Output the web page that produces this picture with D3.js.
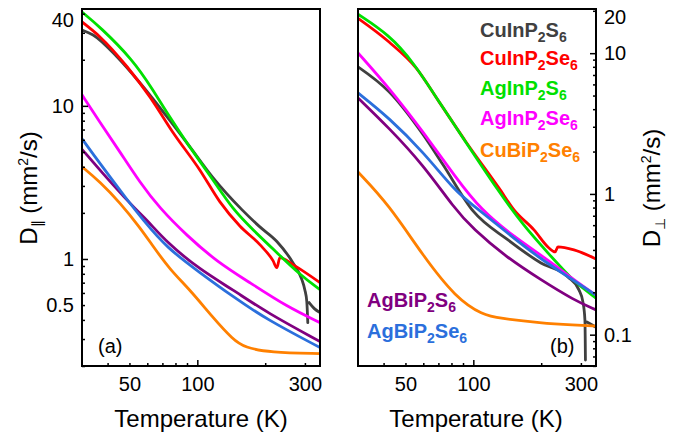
<!DOCTYPE html>
<html><head><meta charset="utf-8">
<script src="https://cdn.jsdelivr.net/npm/d3@7"></script>
<style>body{margin:0;background:#fff}</style>
</head><body><svg id="c" width="680" height="436"></svg>
<script>
// ---------- data ----------
const seriesNames = ["CuInP2S6","CuInP2Se6","AgInP2S6","AgInP2Se6","CuBiP2Se6","AgBiP2S6","AgBiP2Se6"];
const seriesColors = ["#404040","#ff0000","#00e000","#ff00ff","#ff8000","#800080","#2b6fdc"];
// series with sharp features (dip / drop) keep exact points; others are drawn smooth
const sharpSeries = ["CuInP2S6","CuInP2Se6"];

// panel (a): D_parallel  [T (K), D (mm^2/s)]
const parCuInP2S6  = [[30.8,31.3],[34.5,29.0],[44.0,20.9],[55.7,14.1],[73.3,8.5],[92.7,5.4],[117.3,3.4],[157.6,2.10],[189.4,1.62],[225.3,1.30],[265.3,0.946],[290.8,0.733],[299.7,0.63],[305.9,0.526],[309,0.384],[311,null],[313.2,0.519],[330.4,0.474],[350,0.446]];
const parCuInP2Se6 = [[30.8,35.3],[37.0,28.2],[48.8,18.0],[61.7,11.4],[78.0,6.7],[102.7,3.8],[126,2.36],[154.4,1.64],[189.4,1.24],[216.6,0.975],[225.3,0.877],[232.3,1.02],[265.3,0.918],[350,0.70]];
const parAgInP2S6  = [[30.8,41.0],[37.0,32.8],[51.8,20.0],[63.6,12.7],[73.3,9.0],[89.9,5.7],[117.3,3.3],[143.8,2.10],[176.4,1.55],[225.3,1.10],[284.9,0.79],[350,0.63]];
const parAgInP2Se6 = [[30.8,11.8],[37.0,7.8],[45.4,5.0],[55.7,3.15],[68,2.15],[89.9,1.42],[122.1,0.96],[171.1,0.70],[249.5,0.488],[350,0.384]];
const parCuBiP2Se6 = [[30.8,4.0],[37.0,3.19],[45.4,2.33],[55.7,1.60],[62.9,1.24],[75.6,0.852],[92.7,0.63],[117.3,0.414],[143.8,0.298],[162.5,0.264],[209.7,0.245],[350,0.241]];
const parAgBiP2S6  = [[30.8,5.2],[37.0,3.8],[51.8,2.19],[59.8,1.80],[73.3,1.28],[102.7,0.852],[143.8,0.63],[203.4,0.446],[350,0.289]];
const parAgBiP2Se6 = [[30.8,6.1],[37.0,4.2],[48.8,2.44],[57.4,1.80],[73.3,1.18],[102.7,0.814],[143.8,0.568],[203.4,0.402],[350,0.264]];

// panel (b): D_perpendicular
const perpCuInP2S6  = [[30.8,7.99],[42.3,5.31],[59.9,2.63],[73.4,1.61],[99.7,0.757],[142.5,0.471],[199.5,0.323],[262.8,0.257],[294.0,0.208],[306.2,0.171],[312.6,0.127],[314.2,0.066],[316,null],[319,0.123],[350,0.113]];
const perpCuInP2Se6 = [[30.8,17.7],[42.3,12.0],[55.7,7.86],[70.5,4.51],[92.8,2.34],[130,1.10],[151.5,0.77],[185.8,0.555],[216.5,0.413],[230.3,0.387],[237.3,0.42],[279.4,0.40],[350,0.345]];
const perpAgInP2S6  = [[30.8,18.9],[42.3,13.5],[54.1,8.68],[70.5,4.51],[90.0,2.50],[130,1.03],[166.1,0.602],[214.3,0.381],[279.4,0.237],[350,0.182]];
const perpAgInP2Se6 = [[30.8,10.05],[42.3,5.67],[59.9,2.76],[83.8,1.30],[108.2,0.77],[151.5,0.495],[214.3,0.340],[279.4,0.245],[350,0.191]];
const perpCuBiP2Se6 = [[30.8,1.43],[42.3,0.835],[59.9,0.362],[83.8,0.182],[110.4,0.138],[130,0.131],[199.5,0.121],[279.4,0.117],[350,0.115]];
const perpAgBiP2S6  = [[30.8,4.81],[42.3,2.94],[59.9,1.61],[82.1,0.795],[99.7,0.564],[139.6,0.357],[199.5,0.245],[279.4,0.176],[350,0.150]];
const perpAgBiP2Se6 = [[30.8,5.22],[42.3,3.47],[59.9,1.99],[83.8,1.03],[99.7,0.835],[139.6,0.537],[195.5,0.351],[276.5,0.245],[350,0.191]];

// ticks
const tempDomain = [30.8, 350];
const tempLabels = [50, 100, 300];
const tempMajor = [100];
const tempMinor = [40, 50, 60, 70, 80, 90, 200, 300];
const parDomain = [0.2, 42.9];
const parLabels = [0.5, 1, 10, 40];
const parMajor = [1, 10];
const parMinor = [0.2,0.3,0.4,0.5,0.6,0.7,0.8,0.9,2,3,4,5,6,7,8,9,20,30,40];
const perpDomain = [0.0599, 20.6];
const perpLabels = [0.1, 1, 10, 20];
const perpMajor = [0.1, 1, 10];
const perpMinor = [0.06,0.07,0.08,0.09,0.2,0.3,0.4,0.5,0.6,0.7,0.8,0.9,2,3,4,5,6,7,8,9,20];

// ---------- drawing ----------
const FONT = "'Liberation Sans', Arial, Helvetica, sans-serif";
const svg = d3.select("#c");
svg.append("rect").attr("width",680).attr("height",436).attr("fill","#fff");

const panels = [
  {id:"a", x0:82, x1:320, dom:parDomain, labels:parLabels, major:parMajor, minor:parMinor, side:"left",
   series:[parCuInP2S6,parCuInP2Se6,parAgInP2S6,parAgInP2Se6,parCuBiP2Se6,parAgBiP2S6,parAgBiP2Se6]},
  {id:"b", x0:358, x1:596, dom:perpDomain, labels:perpLabels, major:perpMajor, minor:perpMinor, side:"right",
   series:[perpCuInP2S6,perpCuInP2Se6,perpAgInP2S6,perpAgInP2Se6,perpCuBiP2Se6,perpAgBiP2S6,perpAgBiP2Se6]}
];
const yTop = 9, yBottom = 366;

panels.forEach(p => {
  const x = d3.scaleLog().domain(tempDomain).range([p.x0, p.x1]);
  const y = d3.scaleLog().domain(p.dom).range([yBottom, yTop]);
  const g = svg.append("g");

  const clipId = "clip" + p.id;
  svg.append("clipPath").attr("id", clipId).append("rect")
    .attr("x", p.x0).attr("y", yTop).attr("width", p.x1 - p.x0).attr("height", yBottom - yTop);

  const lineSharp = d3.line().defined(d => d[1] != null)
    .x(d => x(d[0])).y(d => y(d[1])).curve(d3.curveMonotoneX);
  const lineSmooth = d3.line().defined(d => d[1] != null)
    .x(d => x(d[0])).y(d => y(d[1])).curve(d3.curveBasis);

  g.append("g").attr("clip-path", `url(#${clipId})`)
    .selectAll("path").data(p.series).join("path")
    .attr("d", (d,i) => sharpSeries.includes(seriesNames[i]) ? lineSharp(d) : lineSmooth(d))
    .attr("fill","none")
    .attr("stroke", (d,i) => seriesColors[i]).attr("stroke-width", 2.8)
    .attr("stroke-linejoin","round").attr("stroke-linecap","round");

  const xAxisG = (vals, size) => g.append("g").attr("transform", `translate(0,${yBottom})`)
    .call(d3.axisBottom(x).tickValues(vals).tickSize(-size).tickFormat(""))
    .call(s => s.select(".domain").remove())
    .call(s => s.selectAll("line").attr("stroke","#000").attr("stroke-width",1.5));
  xAxisG(tempMinor, 3); xAxisG(tempMajor, 6);
  g.append("g").attr("transform", `translate(0,${yBottom})`)
    .call(d3.axisBottom(x).tickValues(tempLabels).tickSize(0).tickPadding(11).tickFormat(d3.format("d")))
    .call(s => s.select(".domain").remove())
    .call(s => s.selectAll("text").attr("font-family",FONT).attr("font-size",20).attr("fill","#000"));

  const ax = p.side === "left" ? d3.axisLeft : d3.axisRight;
  const yPos = p.side === "left" ? p.x0 : p.x1;
  const yAxisG = (vals, size) => g.append("g").attr("transform", `translate(${yPos},0)`)
    .call(ax(y).tickValues(vals).tickSize(-size).tickFormat(""))
    .call(s => s.select(".domain").remove())
    .call(s => s.selectAll("line").attr("stroke","#000").attr("stroke-width",1.5));
  yAxisG(p.minor, 3); yAxisG(p.major, 6);
  const topLabel = p.labels[p.labels.length - 1];
  g.append("g").attr("transform", `translate(${yPos},0)`)
    .call(ax(y).tickValues(p.labels).tickSize(0).tickPadding(8).tickFormat(d => d3.format("~g")(d)))
    .call(s => s.select(".domain").remove())
    .call(s => s.selectAll("text").attr("font-family",FONT).attr("font-size",20).attr("fill","#000")
      .attr("dy", d => d === topLabel ? "0.64em" : "0.32em"));

  g.append("rect").attr("x", p.x0).attr("y", yTop).attr("width", p.x1 - p.x0).attr("height", yBottom - yTop)
    .attr("fill","none").attr("stroke","#000").attr("stroke-width",2);

  g.append("text").attr("x", (p.x0 + p.x1) / 2 + (p.id === "a" ? 0 : -1)).attr("y", 427)
    .attr("text-anchor","middle").attr("font-family",FONT).attr("font-size",24).attr("fill","#000")
    .text("Temperature (K)");

  g.append("text").attr("x", p.id === "a" ? 98 : 550).attr("y", 353)
    .attr("font-family",FONT).attr("font-size",20).attr("fill","#000").text(`(${p.id})`);
});

function yTitle(xPos, sub) {
  const t = svg.append("text").attr("transform", `translate(${xPos},188) rotate(-90)`)
    .attr("text-anchor","middle").attr("font-family",FONT).attr("font-size",24).attr("fill","#000");
  t.append("tspan").text("D");
  t.append("tspan").attr("font-size",14).attr("dy",5).text(sub);
  t.append("tspan").attr("dy",-5).text(" (mm");
  t.append("tspan").attr("font-size",14).attr("dy",-9).text("2");
  t.append("tspan").attr("dy",9).text("/s)");
}
yTitle(37, "\u2225");
yTitle(660, "\u22A5");

function chem(text, xPos, yPos, color) {
  const t = svg.append("text").attr("x", xPos).attr("y", yPos)
    .attr("font-family",FONT).attr("font-size",20).attr("font-weight","bold").attr("fill",color);
  const parts = text.split(/(\d+)/).filter(s => s.length);
  let shifted = false;
  parts.forEach(s => {
    if (/^\d+$/.test(s)) {
      t.append("tspan").attr("font-size",14).attr("dy", 5).text(s); shifted = true;
    } else {
      t.append("tspan").attr("dy", shifted ? -5 : 0).text(s); shifted = false;
    }
  });
}
const legendRight = [37, 65, 95, 125, 157];
for (let i = 0; i < 5; i++) chem(seriesNames[i], 480, legendRight[i], seriesColors[i]);
chem(seriesNames[5], 367, 307, seriesColors[5]);
chem(seriesNames[6], 367, 338, seriesColors[6]);
</script>
</body></html>
